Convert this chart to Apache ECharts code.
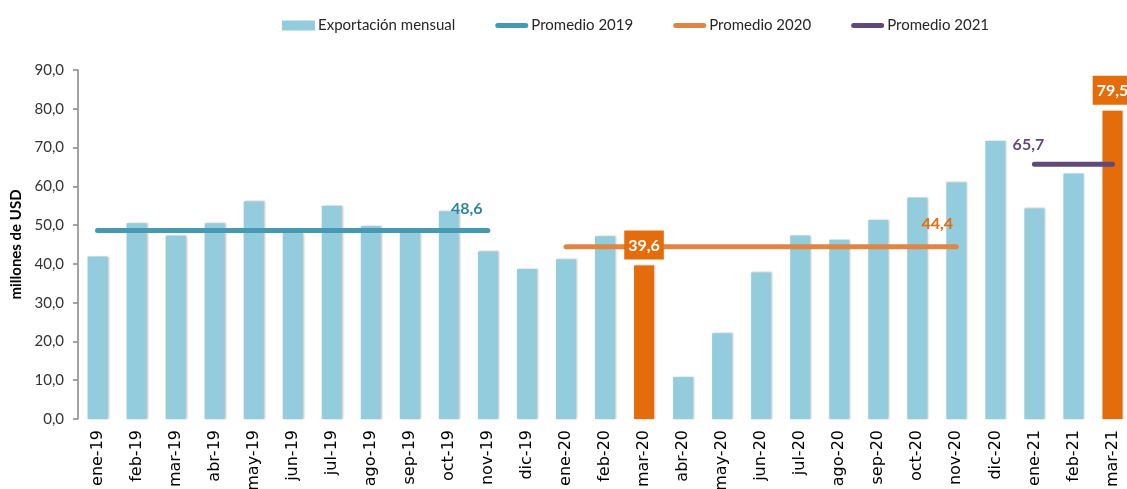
<!DOCTYPE html>
<html>
<head>
<meta charset="utf-8">
<script src="https://cdn.jsdelivr.net/npm/echarts@6/dist/echarts.min.js"></script>
<style>
  html, body { margin: 0; padding: 0; background: #fff; }
  #chart { width: 1127px; height: 489px; }
</style>
</head>
<body>
<div id="chart"></div>
<script>
// meses
const meses = [
  "ene-19", "feb-19", "mar-19", "abr-19", "may-19", "jun-19", "jul-19", "ago-19", "sep-19",
  "oct-19", "nov-19", "dic-19", "ene-20", "feb-20", "mar-20", "abr-20", "may-20", "jun-20",
  "jul-20", "ago-20", "sep-20", "oct-20", "nov-20", "dic-20", "ene-21", "feb-21", "mar-21"
];
// exportacion mensual (millones de USD)
const exportacion = [
  41.9, 50.5, 47.3, 50.5, 56.1, 48.0, 55.0, 49.8, 48.2,
  53.6, 43.2, 38.7, 41.2, 47.1, 39.6, 10.8, 22.1, 37.8,
  47.3, 46.2, 51.3, 57.1, 61.0, 71.7, 54.3, 63.3, 79.5
];
// promedios anuales
const prom2019 = [48.6, 48.6, 48.6, 48.6, 48.6, 48.6, 48.6, 48.6, 48.6, 48.6, 48.6, "-", "-", "-", "-", "-", "-", "-", "-", "-", "-", "-", "-", "-", "-", "-", "-"];
const prom2020 = ["-", "-", "-", "-", "-", "-", "-", "-", "-", "-", "-", "-", 44.4, 44.4, 44.4, 44.4, 44.4, 44.4, 44.4, 44.4, 44.4, 44.4, 44.4, "-", "-", "-", "-"];
const prom2021 = ["-", "-", "-", "-", "-", "-", "-", "-", "-", "-", "-", "-", "-", "-", "-", "-", "-", "-", "-", "-", "-", "-", "-", "-", 65.7, 65.7, 65.7];
// meses destacados (marzo)
const destacados = ["mar-20", "mar-21"];

const fmt = (v) => Number(v).toFixed(1).replace(".", ",");

const celeste = "#93CDDD";
const naranja = "#E46C0A";
// icono de linea redondeada para la leyenda
const iconoLinea = "path://M2.5,0 L30.5,0 A2.5,2.5 0 0 1 30.5,5 L2.5,5 A2.5,2.5 0 0 1 2.5,0 Z";

let barData = exportacion.map((v, i) => {
  if (destacados.indexOf(meses[i]) < 0) return v;
  return { value: v, itemStyle: { color: naranja } };
});

// etiquetas de los meses destacados (serie aparte, encima de las lineas)
let etiquetaData = exportacion.map((v, i) => {
  if (destacados.indexOf(meses[i]) < 0) return "-";
  return v;
});

function lineSerie(name, data, color, labelColor, idx, offsetX, dist) {
  let v = data[idx];
  return {
    name: name,
    type: "line",
    data: data,
    symbol: "none",
    showSymbol: false,
    lineStyle: { color: color, width: 5, cap: "round" },
    itemStyle: { color: color },
    z: 3,
    emphasis: { disabled: true },
    markPoint: {
      symbol: "circle",
      symbolSize: 0,
      silent: true,
      label: {
        show: true,
        position: "top",
        distance: dist,
        offset: [offsetX, 0],
        formatter: (p) => fmt(p.value),
        color: labelColor,
        fontFamily: "Lato",
        fontWeight: "bold",
        fontSize: 16,
      },
      data: [{ coord: [idx, v], value: v }],
    },
  };
}

let chart = echarts.init(document.getElementById("chart"), null, { renderer: "canvas" });

chart.setOption({
  animation: false,
  textStyle: { fontFamily: "Lato" },
  legend: {
    left: 277,
    top: 13,
    itemGap: 40,
    itemWidth: 33,
    itemHeight: 10,
    textStyle: { fontFamily: "Lato", fontSize: 15, color: "#262626", padding: [0, 0, 0, -2] },
    data: [
      { name: "Exportación mensual", icon: "rect" },
      { name: "Promedio 2019", icon: iconoLinea },
      { name: "Promedio 2020", icon: iconoLinea },
      { name: "Promedio 2021", icon: iconoLinea },
    ],
  },
  grid: {
    left: 78,
    right: -5,
    top: 70,
    bottom: 70,
    containLabel: false,
    outerBoundsMode: "none",
  },
  xAxis: {
    type: "category",
    data: meses,
    axisLine: { show: false },
    axisTick: { show: false },
    axisLabel: {
      rotate: 90,
      interval: 0,
      margin: 11,
      color: "#000",
      fontFamily: "DejaVu Sans",
      fontSize: 16,
    },
  },
  yAxis: {
    type: "value",
    min: 0,
    max: 90,
    interval: 10,
    name: "millones de USD",
    nameLocation: "middle",
    nameGap: 53,
    nameTextStyle: { fontFamily: "Lato", fontWeight: "bold", fontSize: 15, color: "#000" },
    axisLine: { show: true, lineStyle: { color: "#868686", width: 1.5 } },
    axisTick: { show: true, length: 5, lineStyle: { color: "#868686", width: 1.5 } },
    splitLine: { show: false },
    axisLabel: {
      formatter: (v) => fmt(v),
      margin: 14,
      color: "#333",
      fontFamily: "Lato",
      fontSize: 15,
    },
  },
  series: [
    {
      name: "Exportación mensual",
      type: "bar",
      data: barData,
      barWidth: 20,
      itemStyle: {
        color: celeste,
        shadowColor: "rgba(0,0,0,0.25)",
        shadowBlur: 2,
        shadowOffsetX: 1,
        shadowOffsetY: 0,
      },
      z: 2,
      emphasis: { disabled: true },
    },
    lineSerie("Promedio 2019", prom2019, "#4599B0", "#31849B", 9, 18, 14),
    lineSerie("Promedio 2020", prom2020, "#DF8644", naranja, 22, -19, 15),
    lineSerie("Promedio 2021", prom2021, "#5F497A", "#604A7B", 24, -6, 11),
    {
      name: "etiquetas",
      type: "bar",
      data: etiquetaData,
      barWidth: 20,
      barGap: "-100%",
      itemStyle: { color: "rgba(0,0,0,0)" },
      z: 5,
      silent: true,
      label: {
        show: true,
        position: "top",
        distance: 6,
        formatter: (p) => fmt(p.value),
        color: "#fff",
        fontFamily: "Lato",
        fontWeight: "bold",
        fontSize: 16,
        backgroundColor: naranja,
        padding: [7, 4, 6, 4],
      },
    },
  ],
});
</script>
</body>
</html>
